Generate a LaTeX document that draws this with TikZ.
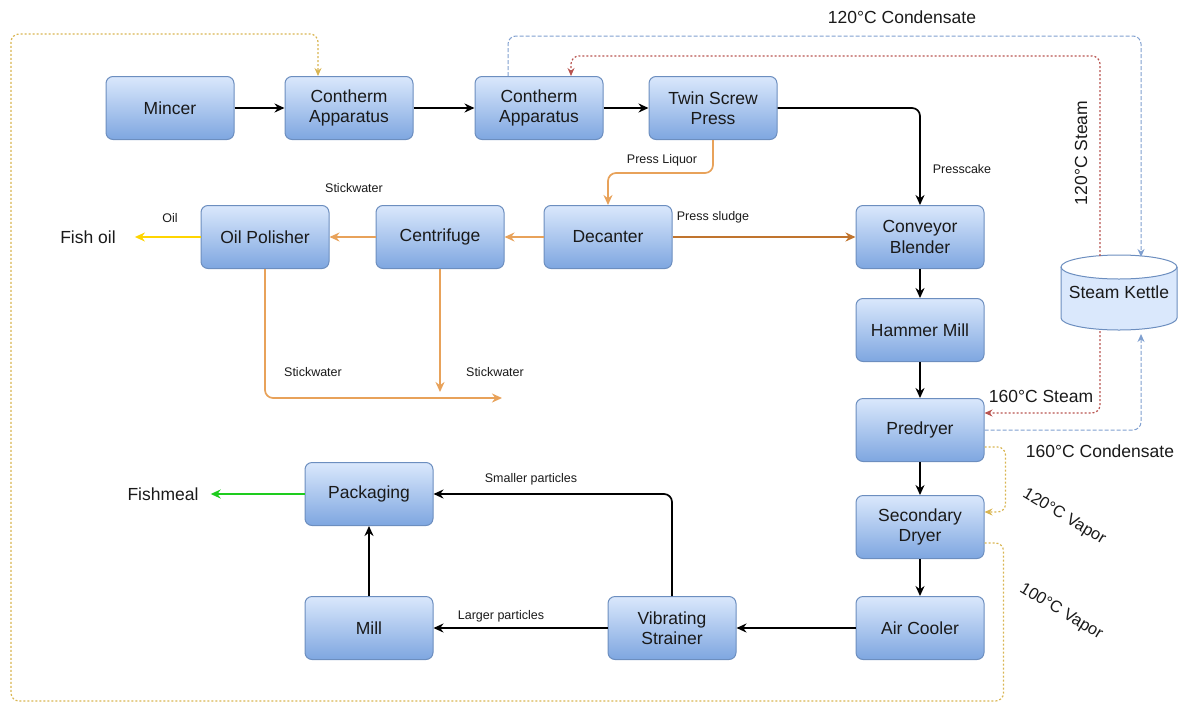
\documentclass[tikz,border=0pt]{standalone}
\usepackage{fontspec}
\setmainfont{Liberation Sans}
\usetikzlibrary{arrows.meta,calc}

\definecolor{boxtop}{HTML}{DAE8FC}
\definecolor{boxbot}{HTML}{7EA6E0}
\definecolor{boxline}{HTML}{6C8EBF}
\definecolor{liquor}{HTML}{E8A25A}
\definecolor{sludge}{HTML}{C0742E}
\definecolor{oilc}{HTML}{FFD500}
\definecolor{mealc}{HTML}{1ECC1E}
\definecolor{condc}{HTML}{7F9FCF}
\definecolor{steamc}{HTML}{B85450}
\definecolor{vaporc}{HTML}{D9B552}
\definecolor{txt}{HTML}{1A1A1A}

\tikzset{
  box/.style={rectangle, rounded corners=7pt, draw=boxline, line width=1pt,
    top color=boxtop, bottom color=boxbot, minimum width=128pt,
    minimum height=63pt, align=center, inner sep=2pt, text=txt,
    font=\fontsize{17.5}{20.5}\selectfont},
  big/.style={text=txt, inner sep=1pt, font=\fontsize{17.5}{20}\selectfont},
  angled/.style={text=txt, inner sep=0pt, rotate=-31, font=\fontsize{16.5}{20}\selectfont},
  small/.style={text=txt, inner sep=1pt, font=\fontsize{12.5}{14}\selectfont},
  tip/.style={-{Stealth[length=10pt,width=9pt]}},
  flow/.style={draw=black, line width=1.7pt, tip, rounded corners=8pt},
  orangeflow/.style={draw=liquor, line width=1.7pt, tip, rounded corners=8pt},
  sludgeflow/.style={draw=sludge, line width=1.7pt, tip},
  oilflow/.style={draw=oilc, line width=1.7pt, tip},
  mealflow/.style={draw=mealc, line width=1.7pt, tip},
  cond/.style={draw=condc, line width=1pt, dash pattern=on 4pt off 2pt,
    -{Stealth[length=8pt,width=7pt]}, rounded corners=8pt},
  steam/.style={draw=steamc, line width=1.2pt, dash pattern=on 2pt off 2pt,
    -{Stealth[length=8pt,width=7pt]}, rounded corners=8pt},
  vapor/.style={draw=vaporc, line width=1.2pt, dash pattern=on 2pt off 2pt,
    -{Stealth[length=8pt,width=7pt]}, rounded corners=8pt},
}

\begin{document}
\begin{tikzpicture}[x=1pt,y=-1pt]
\useasboundingbox (0,0) rectangle (1182,704);

% process units
\node[box] (mincer) at (170,108) {Mincer};
\node[box] (ca1)    at (349,108) {Contherm\\Apparatus};
\node[box] (ca2)    at (539,108) {Contherm\\Apparatus};
\node[box] (tsp)    at (713,108) {Twin Screw\\Press};
\node[box] (op)     at (265,237) {Oil Polisher};
\node[box] (cen)    at (440,237) {Centrifuge};
\node[box] (dec)    at (608,237) {Decanter};
\node[box] (cb)     at (920,237) {Conveyor\\Blender};
\node[box] (hm)     at (920,330) {Hammer Mill};
\node[box] (pd)     at (920,430) {Predryer};
\node[box] (sd)     at (920,527) {Secondary\\Dryer};
\node[box] (ac)     at (920,628) {Air Cooler};
\node[box] (vs)     at (672,628) {Vibrating\\Strainer};
\node[box] (mill)   at (369,628) {Mill};
\node[box] (pack)   at (369,494) {Packaging};

% steam kettle drawn as a cylinder
\fill[boxtop] (1061,267) -- (1061,318) arc[start angle=180,end angle=360,x radius=58,y radius=-12]
  -- (1177,267) arc[start angle=0,end angle=180,x radius=58,y radius=12] -- cycle;
\draw[boxline, line width=1pt] (1061,267) -- (1061,318)
  arc[start angle=180,end angle=360,x radius=58,y radius=-12] -- (1177,267);
\draw[boxline, line width=1pt] (1119,267) ellipse[x radius=58, y radius=12];
\node[big] (kettle) at (1119,292) {Steam Kettle};
\coordinate (kin1)  at (1141,257);
\coordinate (kout1) at (1100,256);
\coordinate (kout2) at (1100,331);
\coordinate (kin2)  at (1141,334);

% products
\node[big] (fishoil)  at (88,237) {Fish oil};
\node[big] (fishmeal) at (163,494) {Fishmeal};
\coordinate (swend) at (502,398);
\coordinate (cenend) at (440,392);

% main line
\draw[flow] (mincer) -- (ca1);
\draw[flow, line width=2.4pt] (ca1) -- (ca2);
\draw[flow] (ca2) -- (tsp);
\draw[flow] (tsp.east) -| (cb.north);
\draw[orangeflow] (tsp.south) -- ++(0,33) -| (dec.north);
\draw[sludgeflow] (dec) -- (cb);
\draw[orangeflow] (dec) -- (cen);
\draw[orangeflow] (cen) -- (op);
\draw[oilflow, shorten >=18pt] (op) -- (fishoil);
\draw[orangeflow] (op.south) |- (swend);
\draw[orangeflow] (cen.south) -- (cenend);
\draw[flow] (cb) -- (hm);
\draw[flow] (hm) -- (pd);
\draw[flow] (pd) -- (sd);
\draw[flow] (sd) -- (ac);
\draw[flow] (ac) -- (vs);
\draw[flow] (vs) -- (mill);
\draw[flow] (vs.north) |- (pack.east);
\draw[flow] (mill) -- (pack);
\draw[mealflow, shorten >=11pt] (pack) -- (fishmeal);

% utilities
\draw[cond] ([xshift=-31pt]ca2.north) -- ++(0,-40) -| (kin1);
\draw[steam] (kout1) -- ++(0,-200) -| ([xshift=32pt]ca2.north);
\draw[steam] (kout2) |- ([yshift=17pt]pd.east);
\draw[cond] (pd.east) -| (kin2);
\draw[vapor] ([yshift=-17pt]pd.east) -- ++(21,0) |- ([yshift=15pt]sd.east);
\draw[vapor] ([yshift=-16pt]sd.east) -- ++(19,0) -- ++(0,158) -- (11,701)
  -- (11,34) -| ([xshift=-31pt]ca1.north);

% labels
\node[big] at (902,17) {120°C Condensate};
\node[big, rotate=90] at (1081,153) {120°C Steam};
\node[big] at (1041,396) {160°C Steam};
\node[big] at (1100,451) {160°C Condensate};
\node[angled] at (1064,517) {120°C Vapor};
\node[angled] at (1061,612) {100°C Vapor};
\node[small] at (170,218) {Oil};
\node[small] at (354,188) {Stickwater};
\node[small] at (313,372) {Stickwater};
\node[small] at (495,372) {Stickwater};
\node[small] at (662,160) {Press Liquor};
\node[small] at (713,217) {Press sludge};
\node[small] at (962,169) {Presscake};
\node[small] at (531,479) {Smaller particles};
\node[small] at (501,616) {Larger particles};
\end{tikzpicture}
\end{document}
